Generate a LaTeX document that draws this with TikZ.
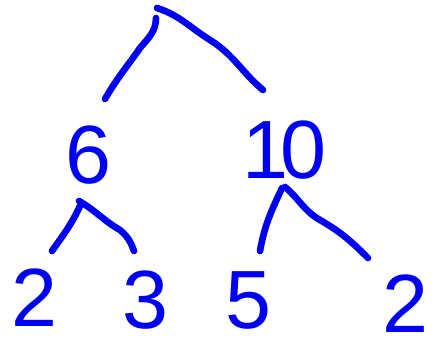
\documentclass[tikz,border=0pt]{standalone}
\usepackage{fontspec}
\setmainfont{Liberation Sans}
\definecolor{ink}{RGB}{0,0,240}
\tikzset{
  stroke/.style={draw=ink, line width=5pt, line cap=round, line join=round},
  digit/.style={text=ink, inner sep=0pt, font=\fontsize{62}{62}\selectfont},
}
\begin{document}
\begin{tikzpicture}[x=0.75pt, y=-0.75pt]
\useasboundingbox (0,0) rectangle (443,349);
% digits
\node[digit] (six) at (88,155) {6};
\node[digit] (ten) at (284,150) {1\kern-6pt 0};
\node[digit] (twoL) at (34,298) {2};
\node[digit] (three) at (145,300) {3};
\node[digit] (five) at (248,300) {5};
\node[digit] (twoR) at (405,304) {2};
% branch end points
\coordinate (topR) at (157,8);
\coordinate (topL) at (156,18);
\coordinate (endTL) at (105,99);
\coordinate (endTR) at (263,90);
\coordinate (sixL) at (80,206);
\coordinate (sixR) at (79,201);
\coordinate (endSL) at (52,251);
\coordinate (endSR) at (134,251);
\coordinate (tenL) at (282,188);
\coordinate (tenR) at (285,187);
\coordinate (endTnL) at (260,251);
\coordinate (endTnR) at (368,258);
% strokes
\draw[stroke] (topR) to[out=-18,in=148] (210,40) to[out=-32,in=140] (endTR);
\draw[stroke] (topL) to[out=-90,in=50] (140,48) to[out=-125,in=60] (endTL);
\draw[stroke] (sixL) to[out=-115,in=55] (endSL);
\draw[stroke] (sixR) to[out=-30,in=150] (120,230) to[out=-40,in=110] (endSR);
\draw[stroke] (tenL) to[out=-115,in=80] (endTnL);
\draw[stroke] (tenR) to[out=-40,in=150] (320,220) to[out=-30,in=135] (endTnR);
\end{tikzpicture}
\end{document}
